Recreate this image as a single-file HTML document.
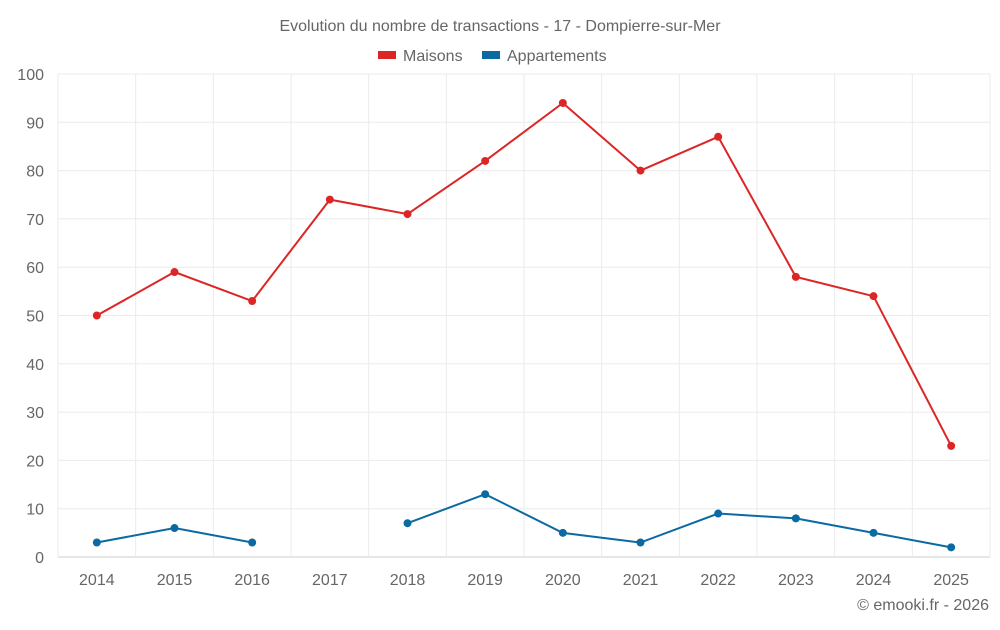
<!DOCTYPE html>
<html><head><meta charset="utf-8"><style>
body{margin:0;background:#fff;}
svg text{font-family:"Liberation Sans",sans-serif;fill:#666;}
</style></head><body>
<svg id="chart" width="1000" height="625">
<text x="500" y="31" text-anchor="middle" font-size="16">Evolution du nombre de transactions - 17 - Dompierre-sur-Mer</text>
<g>
<g><rect x="378" y="51" width="18" height="8" fill="#dc2626"/><text x="403" y="61" font-size="16">Maisons</text></g>
<g><rect x="482" y="51" width="18" height="8" fill="#0b6aa2"/><text x="507" y="61" font-size="16">Appartements</text></g>
</g>
<g id="grid"></g>
<g id="axes"></g>
<g id="series"></g>
<text x="989" y="610" text-anchor="end" font-size="16">© emooki.fr - 2026</text>
</svg>
<script>
const years=["2014","2015","2016","2017","2018","2019","2020","2021","2022","2023","2024","2025"];
const maisons=[50,59,53,74,71,82,94,80,87,58,54,23];
const appartements=[3,6,3,null,7,13,5,3,9,8,5,2];
const yTicks=[0,10,20,30,40,50,60,70,80,90,100];
const NS="http://www.w3.org/2000/svg";
const L=58,R=990,T=74,B=557,yMax=100;
const bw=(R-L)/years.length;
const xs=i=>L+bw*(i+0.5);
const ys=v=>B-(v/yMax)*(B-T);
function mk(tag,attrs,parent){const e=document.createElementNS(NS,tag);for(const k in attrs)e.setAttribute(k,attrs[k]);parent.appendChild(e);return e;}
const grid=document.getElementById('grid'),axes=document.getElementById('axes'),ser=document.getElementById('series');
yTicks.forEach(t=>{
 const l=mk('line',{x1:L,x2:R,y1:ys(t),y2:ys(t),stroke:t===0?'#ccc':'#ebebeb','stroke-width':1},grid);
 
 
 const tx=mk('text',{x:44,y:ys(t)+6,'text-anchor':'end','font-size':16},axes);
 tx.textContent=t;
 
 
});
for(let i=0;i<=years.length;i++){
 const l=mk('line',{x1:L+bw*i,x2:L+bw*i,y1:T,y2:B+(i===0?0:0),stroke:'#ebebeb','stroke-width':1},grid);
 
 
}
years.forEach((y,i)=>{
 const tx=mk('text',{x:xs(i),y:585,'text-anchor':'middle','font-size':16},axes);
 tx.textContent=y;
 
 
});
function draw(data,color,name){
 let d='',pen=false;
 data.forEach((v,i)=>{if(v===null){pen=false;return;}d+=(pen?'L':'M')+xs(i)+' '+ys(v)+' ';pen=true;});
 const p=mk('path',{d:d,fill:'none',stroke:color,'stroke-width':2},ser);
 
 
 data.forEach((v,i)=>{if(v===null)return;
  const c=mk('circle',{cx:xs(i),cy:ys(v),r:4,fill:color},ser);
  
  
 });
}
draw(maisons,'#dc2626','maisons');
draw(appartements,'#0b6aa2','appartements');
</script>
</body></html>
